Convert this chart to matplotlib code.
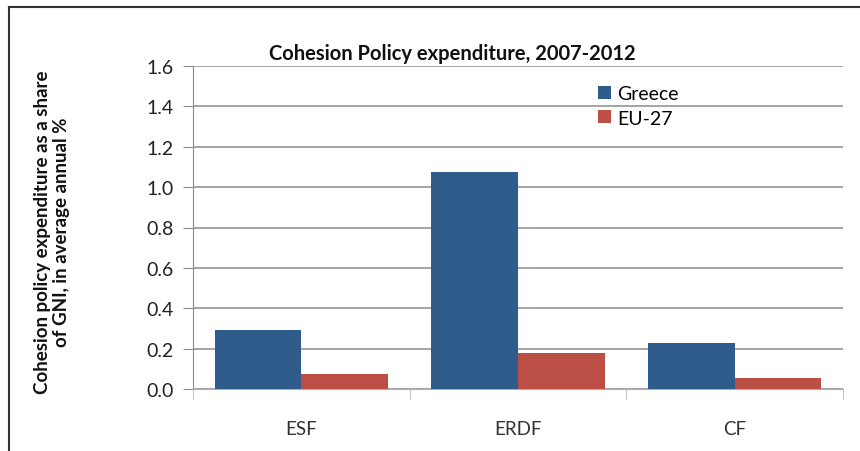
import numpy as np
from matplotlib import pyplot as plt
from matplotlib.lines import Line2D

categories = ["ESF", "ERDF", "CF"]
greece = [0.294, 1.076, 0.229]
eu27 = [0.074, 0.177, 0.053]
series_names = ["Greece", "EU-27"]
yticks = [0.0, 0.2, 0.4, 0.6, 0.8, 1.0, 1.2, 1.4, 1.6]

BLUE = "#2f5c8b"
RED = "#bb4f46"
FONT = ["Lato", "DejaVu Sans"]

plt.rcParams["font.family"] = FONT

fig = plt.figure(figsize=(8.6, 4.52), dpi=100)
ax = fig.add_axes([193 / 860, 1 - 390 / 452, 650 / 860, 323 / 452])

x = np.arange(len(categories))
w = 0.4
ax.bar(x - w / 2, greece, w, color=BLUE, label=series_names[0], zorder=3)
ax.bar(x + w / 2, eu27, w, color=RED, label=series_names[1], zorder=3)

ax.set_xlim(-0.5, len(categories) - 0.5)
ax.set_ylim(0, 1.6)
ax.set_yticks(yticks)
ax.set_yticklabels([f"{v:.1f}" for v in yticks], fontsize=14, color="#222222")
ax.yaxis.grid(True, color="#8c8c8c", linewidth=1.1, zorder=0)
ax.tick_params(axis="y", length=7, color="#8c8c8c", pad=7)

ax.set_xticks(x)
ax.set_xticklabels(categories, fontsize=13.5, color="#333333")
ax.set_xticks(np.arange(len(categories) + 1) - 0.5, minor=True)
ax.tick_params(axis="x", which="major", length=0, pad=22)
ax.tick_params(axis="x", which="minor", length=7, color="#b0b0b0")

for s in ["top", "right"]:
    ax.spines[s].set_visible(False)
ax.spines["left"].set_color("#8c8c8c")
ax.spines["bottom"].set_color("#b0b0b0")

fig.text(452 / 860, 1 - 54 / 452, "Cohesion Policy expenditure, 2007-2012",
         ha="center", va="center", fontsize=14.5, fontweight="bold", color="#111111")

fig.text(52 / 860, 1 - 232 / 452,
         "Cohesion policy expenditure as a share\nof GNI, in average annual %",
         ha="center", va="center", rotation=90, fontsize=13.5, fontweight="bold",
         linespacing=1.2, color="#111111")

ax.legend(loc="upper left", bbox_to_anchor=(598 / 860, 1 - 86 / 452),
          bbox_transform=fig.transFigure, frameon=False, fontsize=14,
          handlelength=0.65, handleheight=0.65, handletextpad=0.35,
          labelspacing=0.4, borderaxespad=0, borderpad=0)

# outer frame (only top and left visible in the crop)
fig.add_artist(Line2D([9 / 860, 9 / 860], [0, 1 - 8 / 452],
                      transform=fig.transFigure, color="#333333", linewidth=1.5))
fig.add_artist(Line2D([9 / 860, 1], [1 - 8 / 452, 1 - 8 / 452],
                      transform=fig.transFigure, color="#333333", linewidth=1.5))

plt.savefig("out.png", dpi=100)
